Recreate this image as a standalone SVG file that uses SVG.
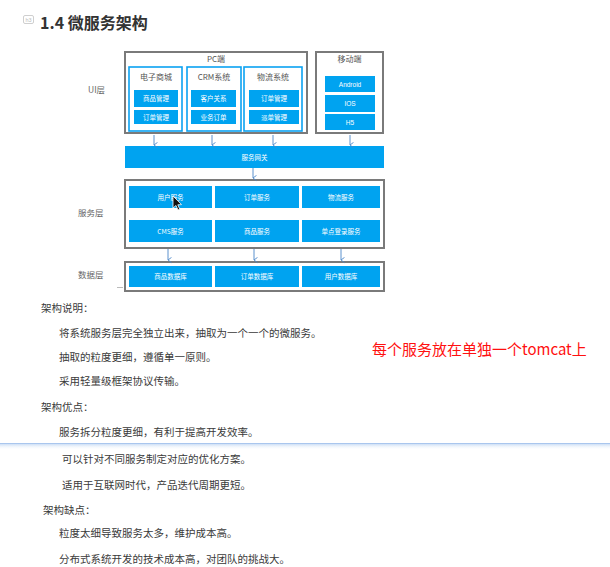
<svg xmlns="http://www.w3.org/2000/svg" width="610" height="567" viewBox="0 0 610 567">
<defs>
<style>
.cn{font-family:"Noto Sans CJK SC","Noto Sans",sans-serif;}
.outer{fill:#fff;stroke:#7a7a7a;stroke-width:2;}
.sub{fill:#fff;stroke:#0aa2f2;stroke-width:1.6;}
.btn{fill:#00a3f0;}
.bt{fill:#fff;font-size:6.5px;text-anchor:middle;}
.hd{fill:#555;font-size:8px;text-anchor:middle;}
.lay{fill:#666;font-size:8.5px;}
.body{fill:#3a3a3a;font-size:10.5px;}
.arr{stroke:#4a86c8;stroke-width:0.9;fill:none;}
</style>
<marker id="ah" viewBox="0 0 8 8" refX="4" refY="7" markerWidth="7" markerHeight="7" orient="auto-start-reverse" markerUnits="userSpaceOnUse">
<path d="M1,3 L4,7 L7,3" fill="none" stroke="#4a86c8" stroke-width="1"/>
</marker>
<linearGradient id="sep" x1="0" y1="0" x2="0" y2="1">
<stop offset="0" stop-color="#bcd4f2"/>
<stop offset="1" stop-color="#ffffff" stop-opacity="0"/>
</linearGradient>
</defs>
<rect width="610" height="567" fill="#fff"/>

<g id="title">
<rect x="23.5" y="15.5" width="10" height="8" rx="1.5" fill="#fff" stroke="#cfcfcf"/>
<text x="28.5" y="22" font-family="Liberation Sans,sans-serif" font-size="5.5" fill="#bbb" text-anchor="middle">h3</text>
<text x="40" y="29" class="cn" font-size="16" font-weight="bold" fill="#333">1.4 微服务架构</text>
</g>

<g id="layer-labels" class="cn">
<text x="88" y="93" class="lay">UI层</text>
<text x="78" y="216" class="lay">服务层</text>
<text x="78" y="278" class="lay">数据层</text>
</g>

<g id="pc">
<rect class="outer" x="125" y="52" width="182" height="81"/>
<text x="216" y="62" class="cn hd" font-size="8.5">PC端</text>
</g>
<g id="shop">
<rect class="sub" x="129" y="67" width="53" height="64"/>
<text x="156" y="80" class="cn hd" font-size="6.5">电子商城</text>
<rect class="btn" x="134" y="90" width="44" height="17"/>
<text x="156" y="101" class="cn bt">商品管理</text>
<rect class="btn" x="134" y="110" width="44" height="14"/>
<text x="156" y="120" class="cn bt">订单管理</text>
</g>
<g id="crm">
<rect class="sub" x="187" y="67" width="54" height="64"/>
<text x="214" y="80" class="cn hd" font-size="6.5">CRM系统</text>
<rect class="btn" x="191" y="90" width="45" height="17"/>
<text x="213.5" y="101" class="cn bt">客户关系</text>
<rect class="btn" x="191" y="110" width="45" height="14"/>
<text x="213.5" y="120" class="cn bt">业务订单</text>
</g>
<g id="logistics">
<rect class="sub" x="244" y="67" width="58" height="64"/>
<text x="273" y="80" class="cn hd" font-size="6.5">物流系统</text>
<rect class="btn" x="249" y="90" width="50" height="17"/>
<text x="274" y="101" class="cn bt">订单管理</text>
<rect class="btn" x="249" y="110" width="50" height="14"/>
<text x="274" y="120" class="cn bt">派单管理</text>
</g>
<g id="mobile">
<rect class="outer" x="316" y="52" width="67" height="81"/>
<text x="349.5" y="62" class="cn hd" font-size="8">移动端</text>
<rect class="btn" x="325" y="76" width="50" height="16"/>
<text x="350" y="86.5" class="bt" font-family="Liberation Sans,sans-serif">Android</text>
<rect class="btn" x="325" y="95" width="50" height="17"/>
<text x="350" y="106" class="bt" font-family="Liberation Sans,sans-serif">IOS</text>
<rect class="btn" x="325" y="114" width="50" height="16"/>
<text x="350" y="124.5" class="bt" font-family="Liberation Sans,sans-serif">H5</text>
</g>

<g id="gateway">
<rect class="btn" x="125" y="146" width="259" height="22"/>
<text x="254.5" y="159.5" class="cn bt">服务网关</text>
</g>

<g id="services">
<rect class="outer" x="125" y="180" width="259" height="68"/>
<rect class="btn" x="129" y="186" width="83" height="22"/>
<text x="170.5" y="199.5" class="cn bt">用户服务</text>
<rect class="btn" x="215" y="186" width="84" height="22"/>
<text x="257" y="199.5" class="cn bt">订单服务</text>
<rect class="btn" x="302" y="186" width="78" height="22"/>
<text x="341" y="199.5" class="cn bt">物流服务</text>
<rect class="btn" x="129" y="220" width="83" height="22"/>
<text x="170.5" y="233.5" class="cn bt">CMS服务</text>
<rect class="btn" x="215" y="220" width="84" height="22"/>
<text x="257" y="233.5" class="cn bt">商品服务</text>
<rect class="btn" x="302" y="220" width="78" height="22"/>
<text x="341" y="233.5" class="cn bt">单点登录服务</text>
</g>

<g id="data">
<rect class="outer" x="125" y="262" width="259" height="29"/>
<rect class="btn" x="129" y="266" width="83" height="21"/>
<text x="170.5" y="279" class="cn bt">商品数据库</text>
<rect class="btn" x="215" y="266" width="84" height="21"/>
<text x="257" y="279" class="cn bt">订单数据库</text>
<rect class="btn" x="302" y="266" width="78" height="21"/>
<text x="341" y="279" class="cn bt">用户数据库</text>
</g>

<g id="connectors">
<line class="arr" x1="154" y1="135" x2="154" y2="145" marker-end="url(#ah)"/>
<line class="arr" x1="212" y1="135" x2="212" y2="145" marker-end="url(#ah)"/>
<line class="arr" x1="273" y1="135" x2="273" y2="145" marker-end="url(#ah)"/>
<line class="arr" x1="350" y1="135" x2="350" y2="145" marker-end="url(#ah)"/>
<line class="arr" x1="253" y1="168" x2="253" y2="178" marker-end="url(#ah)"/>
<line class="arr" x1="168" y1="249" x2="168" y2="260" marker-end="url(#ah)"/>
<line class="arr" x1="254" y1="249" x2="254" y2="260" marker-end="url(#ah)"/>
<line class="arr" x1="341" y1="249" x2="341" y2="260" marker-end="url(#ah)"/>
</g>

<line x1="117" y1="287.5" x2="123" y2="287.5" stroke="#bbb" stroke-width="1"/>

<g id="cursor">
<path d="M173,196 L173,208 L176,205.5 L178,210 L179.8,209.2 L177.8,204.8 L181.5,204.6 Z" fill="#111" stroke="#fff" stroke-width="0.8"/>
</g>

<g id="notes" class="cn">
<text x="41" y="312" class="body">架构说明：</text>
<text x="59" y="337" class="body">将系统服务层完全独立出来，抽取为一个一个的微服务。</text>
<text x="59" y="361" class="body">抽取的粒度更细，遵循单一原则。</text>
<text x="59" y="385" class="body">采用轻量级框架协议传输。</text>
<text x="41" y="411" class="body">架构优点：</text>
<text x="59" y="436" class="body">服务拆分粒度更细，有利于提高开发效率。</text>
<text x="62" y="463" class="body">可以针对不同服务制定对应的优化方案。</text>
<text x="62" y="489" class="body">适用于互联网时代，产品迭代周期更短。</text>
<text x="43" y="514" class="body">架构缺点：</text>
<text x="59" y="537" class="body">粒度太细导致服务太多，维护成本高。</text>
<text x="59" y="563" class="body">分布式系统开发的技术成本高，对团队的挑战大。</text>
</g>

<rect x="0" y="443" width="610" height="7" fill="url(#sep)"/>
<line x1="0" y1="443.5" x2="610" y2="443.5" stroke="#a9c6ee" stroke-width="1"/>

<text x="372" y="355" class="cn" font-size="15" fill="#ff1010">每个服务放在单独一个tomcat上</text>
</svg>
